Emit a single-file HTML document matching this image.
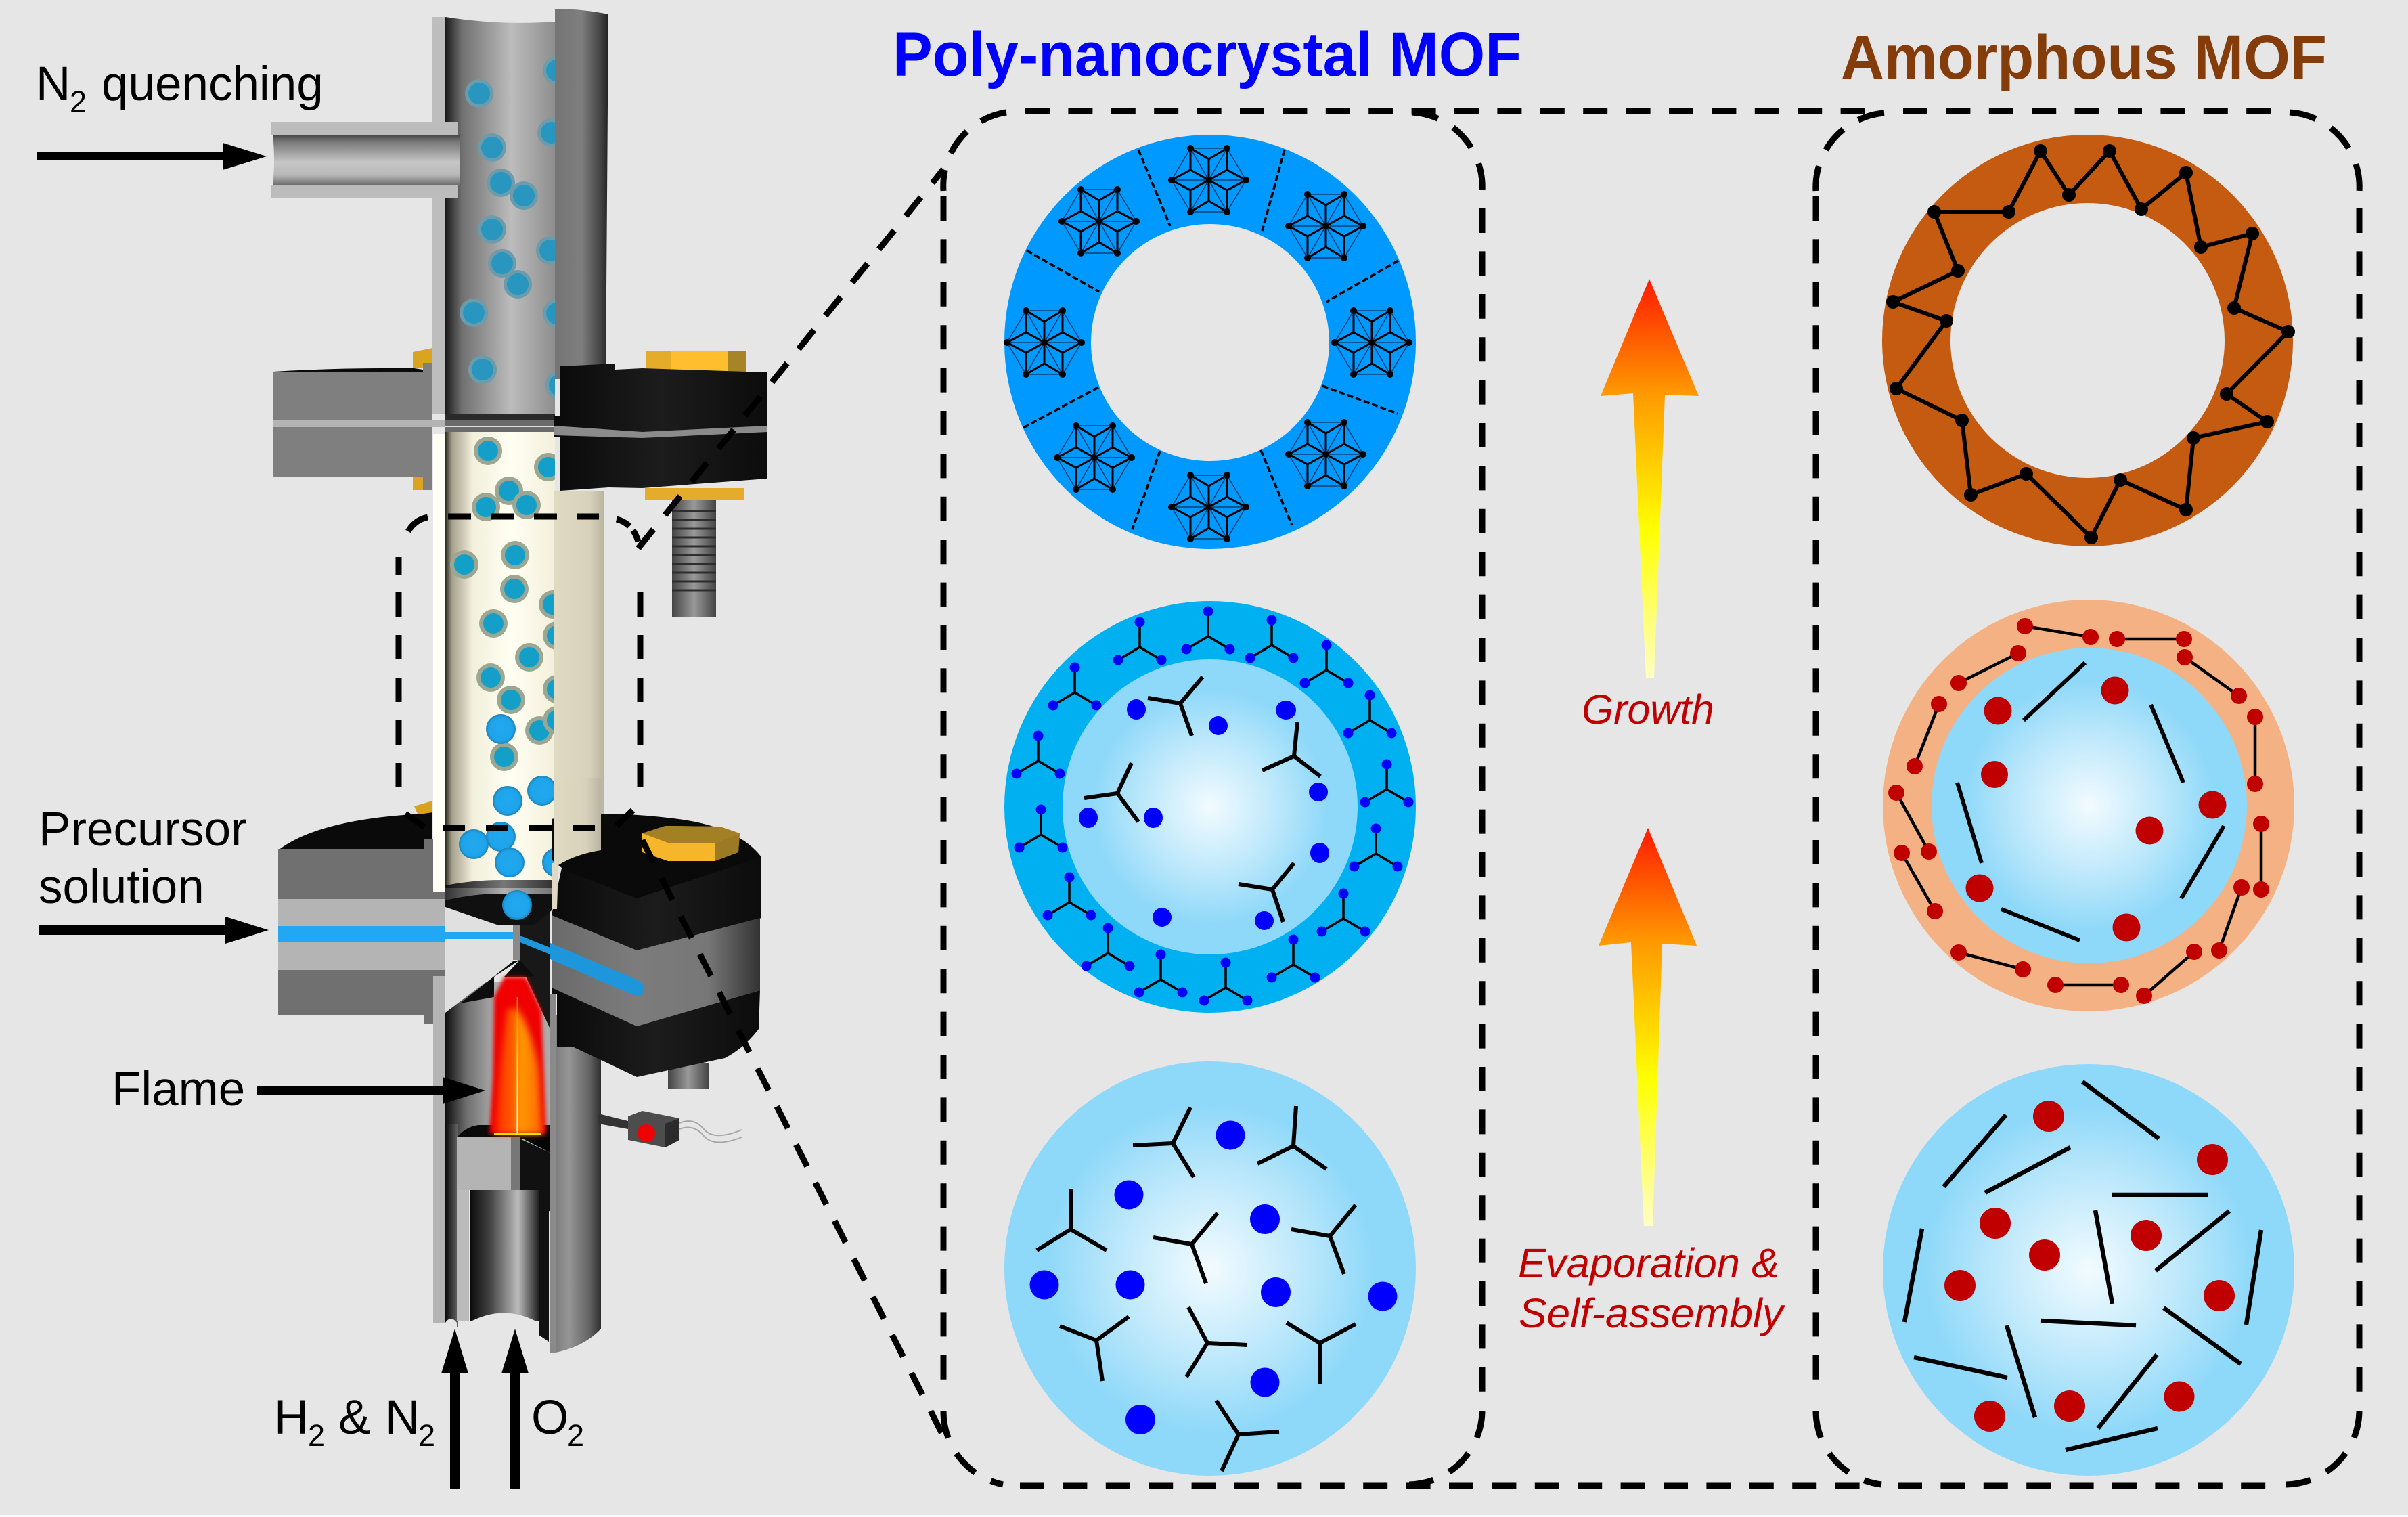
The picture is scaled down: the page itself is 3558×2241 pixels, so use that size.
<!DOCTYPE html>
<html><head><meta charset="utf-8"><style>html,body{margin:0;padding:0;background:#e6e6e6}svg{display:block}text{font-family:"Liberation Sans",sans-serif}</style></head><body>
<svg xmlns="http://www.w3.org/2000/svg" width="3558" height="2241" viewBox="0 0 3558 2241">
<defs>
<linearGradient id="pipeV" x1="0" y1="0" x2="0" y2="1"><stop offset="0" stop-color="#444"/><stop offset=".15" stop-color="#7a7a7a"/><stop offset=".55" stop-color="#c6c6c6"/><stop offset=".8" stop-color="#b8b8b8"/><stop offset="1" stop-color="#707070"/></linearGradient>
<linearGradient id="innerGray"><stop offset="0" stop-color="#1a1a1a"/><stop offset=".15" stop-color="#707070"/><stop offset=".6" stop-color="#bcbcbc"/><stop offset="1" stop-color="#8e8e8e"/></linearGradient>
<linearGradient id="outerGray"><stop offset="0" stop-color="#757575"/><stop offset=".5" stop-color="#7e7e7e"/><stop offset=".85" stop-color="#444"/><stop offset="1" stop-color="#222"/></linearGradient>
<linearGradient id="outerLow"><stop offset="0" stop-color="#777"/><stop offset=".35" stop-color="#959595"/><stop offset=".75" stop-color="#666"/><stop offset="1" stop-color="#2e2e2e"/></linearGradient>
<linearGradient id="beige"><stop offset="0" stop-color="#2a2a20"/><stop offset=".06" stop-color="#a5a08c"/><stop offset=".25" stop-color="#f2efdc"/><stop offset=".6" stop-color="#fffff2"/><stop offset="1" stop-color="#f3efdc"/></linearGradient>
<linearGradient id="beigeOut"><stop offset="0" stop-color="#e0dac3"/><stop offset=".7" stop-color="#d8d2bb"/><stop offset="1" stop-color="#b8b4a1"/></linearGradient>
<linearGradient id="blackH"><stop offset="0" stop-color="#0a0a0a"/><stop offset=".5" stop-color="#1c1c1c"/><stop offset="1" stop-color="#0c0c0c"/></linearGradient>
<linearGradient id="grayBand"><stop offset="0" stop-color="#6a6a6a"/><stop offset=".4" stop-color="#7c7c7c"/><stop offset=".75" stop-color="#777"/><stop offset="1" stop-color="#333"/></linearGradient>
<linearGradient id="screw"><stop offset="0" stop-color="#444"/><stop offset=".5" stop-color="#999"/><stop offset="1" stop-color="#444"/></linearGradient>
<linearGradient id="lowerTube"><stop offset="0" stop-color="#0d0d0d"/><stop offset=".2" stop-color="#6e6e6e"/><stop offset=".5" stop-color="#b4b4b4"/><stop offset="1" stop-color="#acacac"/></linearGradient>
<linearGradient id="lowerIn"><stop offset="0" stop-color="#0a0a0a"/><stop offset=".3" stop-color="#444"/><stop offset=".7" stop-color="#bbb"/><stop offset="1" stop-color="#222"/></linearGradient>
<linearGradient id="gapDark"><stop offset="0" stop-color="#0a0a0a"/><stop offset="1" stop-color="#666"/></linearGradient>
<linearGradient id="ringDark"><stop offset="0" stop-color="#111"/><stop offset=".55" stop-color="#777"/><stop offset="1" stop-color="#333"/></linearGradient>
<linearGradient id="ringLight"><stop offset="0" stop-color="#333"/><stop offset=".55" stop-color="#b0b0b0"/><stop offset="1" stop-color="#777"/></linearGradient>
<linearGradient id="flameL" x1="0" y1="0" x2="1" y2="0"><stop offset="0" stop-color="#ff3000"/><stop offset="1" stop-color="#ff6a00"/></linearGradient>
<linearGradient id="flameR" x1="0" y1="0" x2="1" y2="0"><stop offset="0" stop-color="#ffa000"/><stop offset="1" stop-color="#ff6800"/></linearGradient>
<linearGradient id="coreFade" x1="0" y1="0" x2="0" y2="1"><stop offset="0" stop-color="#ff7000"/><stop offset=".25" stop-color="#ffb000"/><stop offset=".6" stop-color="#ffe060"/><stop offset="1" stop-color="#ffffff"/></linearGradient>
<radialGradient id="sphere" cx=".5" cy=".5" r=".5"><stop offset="0" stop-color="#f2fbff"/><stop offset=".45" stop-color="#bde8fb"/><stop offset=".8" stop-color="#8ed8f9"/><stop offset="1" stop-color="#8ed8f9"/></radialGradient>
<radialGradient id="ball" cx=".5" cy=".5" r=".5"><stop offset="0" stop-color="#1fa8f0"/><stop offset=".8" stop-color="#1fa4ea"/><stop offset="1" stop-color="#1b83b8"/></radialGradient>
<linearGradient id="arrowUp" gradientUnits="objectBoundingBox" x1="0" y1="0" x2="0" y2="1"><stop offset="0" stop-color="#ff1a00"/><stop offset=".29" stop-color="#ff9a00"/><stop offset=".63" stop-color="#ffff00"/><stop offset="1" stop-color="#ffffc4"/></linearGradient>
<g id="star">
<path d="M0 0L55 0M0 0L-55 0M0 0L27 47M0 0L-27 47M0 0L27 -47M0 0L-27 -47M-27 -47L27 -47L55 0L27 47L-27 47L-55 0Z" fill="none" stroke="#0b3f73" stroke-width="1.6"/>
<path d="M55 0L27 15L27 47L0 31L-27 47L-27 15L-55 0L-27 -15L-27 -47L0 -31L27 -47L27 -15ZM0 -31V31M27 -15L-27 15M27 15L-27 -15" fill="none" stroke="#000" stroke-width="3"/>
<g fill="#000"><circle r="4.5"/><circle cx="55" r="5"/><circle cx="-55" r="5"/><circle cx="27" cy="47" r="5"/><circle cx="-27" cy="47" r="5"/><circle cx="27" cy="-47" r="5"/><circle cx="-27" cy="-47" r="5"/></g>
</g>
<g id="ym"><path d="M0 0V-37M0 0L-32 19M0 0L32 19" stroke="#000" stroke-width="3.5" fill="none"/><g fill="#0000ff"><circle cy="-37" r="7.5"/><circle cx="-32" cy="19" r="7.5"/><circle cx="32" cy="19" r="7.5"/></g></g>
<g id="pg"><circle r="21" fill="#6c9cab"/><circle r="16" fill="#2896bf"/></g>
<g id="pb"><circle r="21" fill="#9ba792"/><circle r="15" fill="#149fc8"/></g>
<clipPath id="tubeClip"><rect x="658" y="0" width="162" height="1400"/></clipPath>
</defs>
<rect width="3558" height="2241" fill="#e6e6e6"/>
<rect y="2238" width="3558" height="3" fill="#fbfbfb"/>

<!-- left upper clamp -->
<path d="M610 520L639 514V544H610Z" fill="#d9a520"/><rect x="610" y="704" width="29" height="20" fill="#d9a520"/>
<path d="M404 549Q500 543 612 544L625 546V536H639V560H404Z" fill="#0a0a0a"/>
<rect x="404" y="549" width="235" height="155" fill="#7f7f7f"/>
<rect x="625" y="536" width="14" height="188" fill="#7f7f7f"/>
<rect x="404" y="621" width="254" height="10" fill="#b4b4b4"/>

<!-- upper tube -->
<rect x="639" y="25" width="19" height="586" fill="#bdbdbd"/>
<path d="M658 25Q740 38 820 32V611H658Z" fill="url(#innerGray)"/>
<rect x="640" y="641" width="18" height="676" fill="#fffff6"/>
<rect x="658" y="638" width="162" height="670" fill="url(#beige)"/>
<rect x="658" y="611" width="162" height="27" fill="#6a6a6a"/><rect x="658" y="611" width="162" height="9" fill="#2a2a2a"/><rect x="658" y="629" width="162" height="2" fill="#ddd"/>

<!-- particles -->
<g clip-path="url(#tubeClip)">
<use href="#pg" x="708" y="138"/><use href="#pg" x="823" y="104"/><use href="#pg" x="727" y="218"/><use href="#pg" x="815" y="196"/><use href="#pg" x="740" y="270"/><use href="#pg" x="774" y="289"/><use href="#pg" x="727" y="339"/><use href="#pg" x="813" y="370"/><use href="#pg" x="742" y="389"/><use href="#pg" x="765" y="420"/><use href="#pg" x="700" y="462"/><use href="#pg" x="823" y="463"/><use href="#pg" x="713" y="546"/><use href="#pg" x="827" y="569"/>
<use href="#pb" x="721" y="666"/><use href="#pb" x="810" y="690"/><use href="#pb" x="752" y="725"/><use href="#pb" x="718" y="749"/><use href="#pb" x="778" y="746"/><use href="#pb" x="686" y="834"/><use href="#pb" x="761" y="820"/><use href="#pb" x="760" y="870"/><use href="#pb" x="817" y="893"/><use href="#pb" x="729" y="921"/><use href="#pb" x="823" y="939"/><use href="#pb" x="782" y="971"/><use href="#pb" x="725" y="1001"/><use href="#pb" x="755" y="1034"/><use href="#pb" x="823" y="1018"/><use href="#pb" x="797" y="1079"/><use href="#pb" x="823" y="1064"/><use href="#pb" x="745" y="1118"/>
<g fill="url(#ball)"><circle cx="740" cy="1077" r="22"/><circle cx="750" cy="1183" r="22"/><circle cx="801" cy="1168" r="22"/><circle cx="740" cy="1236" r="22"/><circle cx="700" cy="1247" r="22"/><circle cx="753" cy="1274" r="22"/><circle cx="823" cy="1274" r="22"/></g>
</g>

<!-- side pipe -->
<rect x="401" y="180" width="276" height="19" fill="#bcbcbc"/>
<rect x="401" y="273" width="276" height="19" fill="#bcbcbc"/>
<path d="M403 199H679V273H403Q407 236 403 199Z" fill="url(#pipeV)"/>

<!-- outer upper half tube -->
<path d="M820 13Q860 13 899 21L895 560H820Z" fill="url(#outerGray)"/>

<!-- upper right clamp -->
<rect x="954" y="519" width="148" height="32" fill="#ffbe2e"/><rect x="954" y="519" width="37" height="32" fill="#e5ac2a"/><rect x="1075" y="519" width="27" height="32" fill="#a88428"/>
<path d="M953 721H1100V739H953Z" fill="#e5ab2b"/>
<rect x="993" y="739" width="65" height="172" fill="url(#screw)"/>
<g stroke="#2d2d2d" stroke-width="3"><path d="M993 755H1058M993 768H1058M993 781H1058M993 794H1058M993 807H1058M993 820H1058M993 833H1058M993 846H1058M993 859H1058M993 872H1058"/></g>
<rect x="819" y="725" width="74" height="480" fill="url(#beigeOut)"/>
<path d="M828 541L909 537V546L949 544L1133 550L1134 707L949 721L899 720L828 725V646H819V614H828Z" fill="url(#blackH)"/>
<path d="M819 629L949 638L1134 629V638L949 647L819 643Z" fill="#8b8b8b"/>

<!-- lower left clamp -->
<path d="M612 1191L639 1183V1227L620 1209Z" fill="#d6a21f"/>
<path d="M411 1256Q470 1210 626 1202L639 1200V1256Z" fill="#0a0a0a"/>
<rect x="411" y="1254" width="229" height="245" fill="#707070"/>
<rect x="627" y="1240" width="13" height="273" fill="#707070"/>
<rect x="640" y="1317" width="18" height="126" fill="#707070"/>
<rect x="411" y="1328" width="247" height="105" fill="#b4b4b4"/>
<rect x="411" y="1368" width="247" height="24" fill="#22a7f5"/>

<!-- lower walls -->
<rect x="640" y="1442" width="18" height="512" fill="#b4b4b4"/>
<rect x="658" y="1450" width="155" height="230" fill="url(#lowerTube)"/>
<rect x="658" y="1660" width="19" height="300" fill="url(#gapDark)"/>
<rect x="675" y="1680" width="18" height="272" fill="#bbb"/>
<rect x="694" y="1680" width="102" height="100" fill="#bdbdbd"/>
<path d="M677 1678Q690 1664 707 1662H813V1682H677Z" fill="#0a0a0a"/>
<rect x="675" y="1680" width="80" height="78" fill="#b4b4b4"/>
<path d="M768 1682L813 1703V1790L796 1780L768 1758Z" fill="#111"/>
<path d="M768 1680H813V1703Z" fill="#050505"/>
<rect x="755" y="1680" width="13" height="78" fill="#777"/>
<rect x="694" y="1758" width="102" height="194" fill="url(#lowerIn)"/>
<path d="M796 1760H811V1982L796 1972Z" fill="#111"/>
<path d="M692 1954Q745 1925 796 1954V1990H692Z" fill="#e6e6e6"/>
<path d="M658 1954Q666 1942 675 1954V1990H658Z" fill="#e6e6e6"/>

<!-- nozzle -->
<path d="M658 1340L737 1367H758V1420L658 1496Z" fill="#e0e0e0"/>
<rect x="658" y="1377" width="100" height="10" fill="#22a7f5"/>
<path d="M768 1363L813 1345V1520L768 1420Z" fill="#181818"/>
<path d="M758 1420L680 1482L730 1473V1443L768 1418Z" fill="#0d0d0d"/>
<path d="M768 1418L745 1443H790Z" fill="#0d0d0d"/>
<path d="M777 1443L813 1520V1440Z" fill="#181818"/>
<path d="M766 1381L813 1400V1410L766 1391Z" fill="#1e96dc"/>
<rect x="758" y="1367" width="10" height="51" fill="#8a8a8a"/>

<!-- flame -->
<g style="filter:blur(3px)"><path d="M745 1443H777L800 1493L804 1593L807 1675H723L728 1593L730 1473Z" fill="#f00000"/></g>
<g style="filter:blur(5px)">
<path d="M750 1490Q738 1570 733 1675H766V1490Z" fill="url(#flameL)"/>
<path d="M764 1490Q785 1520 796 1580L801 1675H764Z" fill="url(#flameR)"/>
</g>
<rect x="763.5" y="1473" width="2.5" height="202" fill="url(#coreFade)"/>
<rect x="730" y="1673" width="70" height="4" fill="#ffe000"/>

<!-- beige bottom ring -->
<path d="M658 1308Q700 1300 740 1300H815V1312H658Z" fill="url(#ringDark)"/>
<path d="M658 1312H815V1320H740Q690 1320 658 1335Z" fill="url(#ringLight)"/>
<path d="M658 1330Q700 1320 740 1320H815V1345L790 1366L737 1367L658 1340Z" fill="#101010"/>
<circle cx="764" cy="1337" r="22" fill="url(#ball)"/>

<!-- lower right outer tube -->
<rect x="813" y="1468" width="9" height="531" fill="#8a8a8a"/>
<path d="M822 1500H888V1963Q860 1992 815 1999H822Z" fill="url(#outerLow)"/>

<!-- sensor -->
<path d="M884 1645L928 1656V1668L884 1660Z" fill="#333"/>
<path d="M928 1649L949 1641L1004 1652V1684L983 1695L928 1684Z" fill="#4d4d4d"/>
<path d="M983 1660L1004 1652V1684L983 1695Z" fill="#2b2b2b"/>
<circle cx="955" cy="1674" r="13" fill="#f00000"/>
<path d="M1004 1659Q1025 1650 1040 1668T1096 1669M1004 1668Q1025 1660 1040 1678T1096 1680" fill="none" stroke="#a8a8a8" stroke-width="2"/>

<!-- lower right clamp -->
<rect x="987" y="1570" width="60" height="39" fill="url(#screw)"/>
<path d="M830 1282L815 1270V1210Q880 1195 995 1209Q1090 1220 1125 1266V1356L941 1404L815 1352Z" fill="#0a0a0a"/>
<path d="M830 1284L941 1327L1125 1266V1356L941 1404L815 1352Z" fill="url(#blackH)"/>
<path d="M815 1352L941 1404L1123 1356V1463L941 1516L815 1459Z" fill="url(#grayBand)"/>
<path d="M815 1459L941 1516L1123 1463L1121 1520Q1100 1548 1071 1563L941 1591L848 1547H823V1468H815Z" fill="url(#blackH)"/>
<path d="M813 1393L945 1449Q955 1458 949 1468Q945 1474 938 1471L813 1417Z" fill="#1e96dc"/>
<path d="M819 1150H888V1256Q850 1262 825 1278L823 1343H815V1275H819Z" fill="url(#beigeOut)"/>
<path d="M949 1231L983 1220L1064 1221L1093 1231L1091 1259L1056 1272H987L949 1259Z" fill="#f6b62c"/>
<path d="M949 1231L983 1220L1064 1221L1093 1231L1056 1245H987Z" fill="#a48025"/>
<path d="M1056 1245L1093 1231L1091 1259L1056 1272Z" fill="#9a7a25"/>

<!-- small dashed rect -->
<g fill="none" stroke="#000" stroke-width="9">
<path d="M662 763H885" stroke-dasharray="34 29.5"/>
<path d="M911 767Q935 773 943 800" stroke-dasharray="22 8"/>
<path d="M603 785Q613 768 632 764"/>
<path d="M589 850V823"/>
<path d="M589 875V1172" stroke-dasharray="36 27"/>
<path d="M946 875V1172" stroke-dasharray="36 27"/>
<path d="M599 1202L627 1222"/>
<path d="M654 1223H881" stroke-dasharray="33 31"/>
<path d="M911 1220L935 1197"/>
<!-- connectors -->
<path d="M943 810L1394 250" stroke-dasharray="36 27"/>
<path d="M949 1241L1394 2122" stroke-dasharray="36 27"/>
</g>

<!-- left arrows -->
<g fill="#000">
<path d="M54 225H329V211L394 231L329 251V237H54Z"/>
<path d="M57 1367H333V1354L397 1374L333 1394V1381H57Z"/>
<path d="M379 1604H654V1591L717 1611L654 1631V1618H379Z"/>
<path d="M665 2199V2029H652L672 1963L692 2029H679V2199Z"/>
<path d="M754 2199V2029H741L761 1963L781 2029H768V2199Z"/>
</g>
<g font-size="71" fill="#000">
<text><tspan x="53" y="148">N</tspan><tspan x="103" y="166" font-size="45">2</tspan><tspan x="150" y="148">quenching</tspan></text>
<text x="57" y="1249">Precursor</text>
<text x="57" y="1334">solution</text>
<text x="165" y="1633">Flame</text>
<text><tspan x="405" y="2118">H</tspan><tspan x="455" y="2136" font-size="45">2</tspan><tspan x="500" y="2118">&amp;</tspan><tspan x="569" y="2118">N</tspan><tspan x="618" y="2136" font-size="45">2</tspan></text>
<text><tspan x="785" y="2118">O</tspan><tspan x="838" y="2136" font-size="45">2</tspan></text>
</g>

<!-- titles -->
<text x="1319" y="112" font-size="92" font-weight="bold" fill="#0000ff" textLength="929" lengthAdjust="spacingAndGlyphs">Poly-nanocrystal MOF</text>
<text x="2720" y="116" font-size="92" font-weight="bold" fill="#843c0b" textLength="718" lengthAdjust="spacingAndGlyphs">Amorphous MOF</text>

<!-- big dashed rects -->
<g fill="none" stroke="#000" stroke-width="9">
<path d="M1515 164H2780M2812 164H3357" stroke-dasharray="36 27.4"/>
<path d="M1507 2195H2748M2804 2195H3350" stroke-dasharray="36 27.4"/>
<path d="M1394 290V2060M2190 308V2060M2683 290V2060M3486 308V2060" stroke-dasharray="36 27.4"/>
<g stroke-dasharray="40 26">
<path d="M1487 166A110 110 0 0 0 1394 282"/>
<path d="M2086 166A110 110 0 0 1 2190 282"/>
<path d="M2784 167A110 110 0 0 0 2683 282"/>
<path d="M3383 166A110 110 0 0 1 3486 282"/>
<path d="M1394 2085A110 110 0 0 0 1482 2193"/>
<path d="M2190 2085A110 110 0 0 1 2082 2193"/>
<path d="M2683 2085A110 110 0 0 0 2780 2193"/>
<path d="M3486 2085A110 110 0 0 1 3378 2193"/>
</g>
</g>

<!-- Top-left ring -->
<path fill-rule="evenodd" fill="#0099ff" d="M1484 505a304 306 0 1 0 608 0a304 306 0 1 0 -608 0ZM1612 506a176 175 0 1 1 352 0a176 175 0 1 1 -352 0Z"/>
<g stroke="#000" stroke-width="3.5" stroke-dasharray="9 4" fill="none"><path d="M1682 221L1729 334M1898 221L1865 341M2066 385L1960 446M1954 570L2065 611M1863 665L1909 776M1714 666L1673 782M1623 572L1512 632M1517 370L1624 431"/></g>
<use href="#star" x="1786" y="266"/><use href="#star" x="1959" y="334"/><use href="#star" x="2027" y="506"/><use href="#star" x="1959" y="671"/><use href="#star" x="1786" y="749"/><use href="#star" x="1617" y="676"/><use href="#star" x="1543" y="506"/><use href="#star" x="1624" y="327"/>

<!-- Top-right ring -->
<path fill-rule="evenodd" fill="#c55a11" d="M2781 503a303.5 304 0 1 0 607 0a303.5 304 0 1 0 -607 0ZM2882 503a202.5 203 0 1 1 405 0a202.5 203 0 1 1 -405 0Z"/>
<polygon fill="none" stroke="#000" stroke-width="6" points="3015,223 3057,288 3117,223 3164,309 3230,255 3252,365 3328,345 3301,455 3381,490 3290,582 3350,623 3241,647 3230,753 3133,709 3090,794 2994,700 2912,731 2899,621 2802,574 2876,474 2797,446 2893,400 2858,313 2968,313"/>
<g fill="#000"><circle cx="3015" cy="223" r="10"/><circle cx="3057" cy="288" r="10"/><circle cx="3117" cy="223" r="10"/><circle cx="3164" cy="309" r="10"/><circle cx="3230" cy="255" r="10"/><circle cx="3252" cy="365" r="10"/><circle cx="3328" cy="345" r="10"/><circle cx="3301" cy="455" r="10"/><circle cx="3381" cy="490" r="10"/><circle cx="3290" cy="582" r="10"/><circle cx="3350" cy="623" r="10"/><circle cx="3241" cy="647" r="10"/><circle cx="3230" cy="753" r="10"/><circle cx="3133" cy="709" r="10"/><circle cx="3090" cy="794" r="10"/><circle cx="2994" cy="700" r="10"/><circle cx="2912" cy="731" r="10"/><circle cx="2899" cy="621" r="10"/><circle cx="2802" cy="574" r="10"/><circle cx="2876" cy="474" r="10"/><circle cx="2797" cy="446" r="10"/><circle cx="2893" cy="400" r="10"/><circle cx="2858" cy="313" r="10"/><circle cx="2968" cy="313" r="10"/></g>

<!-- Middle-left -->
<ellipse cx="1788" cy="1192" rx="304" ry="304" fill="#00b0f0"/>
<ellipse cx="1788" cy="1192" rx="218" ry="218" fill="url(#sphere)"/>
<use href="#ym" x="1684" y="956"/><use href="#ym" x="1785" y="940"/><use href="#ym" x="1879" y="953"/><use href="#ym" x="1960" y="990"/><use href="#ym" x="2024" y="1064"/><use href="#ym" x="2049" y="1166"/><use href="#ym" x="2033" y="1261"/><use href="#ym" x="1985" y="1357"/><use href="#ym" x="1911" y="1425"/><use href="#ym" x="1811" y="1459"/><use href="#ym" x="1715" y="1447"/><use href="#ym" x="1637" y="1408"/><use href="#ym" x="1580" y="1333"/><use href="#ym" x="1538" y="1233"/><use href="#ym" x="1534" y="1124"/><use href="#ym" x="1588" y="1023"/>
<g fill="none" stroke="#000" stroke-width="6"><path d="M1744 1039L1777 1000M1744 1039L1696 1031M1744 1039L1761 1087M1912 1117L1917 1067M1912 1117L1865 1138M1912 1117L1951 1147M1651 1172L1672 1127M1651 1172L1602 1179M1651 1172L1682 1214M1880 1314L1912 1275M1880 1314L1830 1306M1880 1314L1896 1362"/></g>
<g fill="#0000ff"><ellipse cx="1679" cy="1048" rx="14" ry="15"/><ellipse cx="1800" cy="1072" rx="14" ry="14"/><ellipse cx="1900" cy="1049" rx="15" ry="14"/><ellipse cx="1948" cy="1170" rx="14" ry="14"/><ellipse cx="1608" cy="1208" rx="14" ry="15"/><ellipse cx="1704" cy="1208" rx="14" ry="15"/><ellipse cx="1950" cy="1260" rx="14" ry="15"/><ellipse cx="1717" cy="1355" rx="14" ry="14"/><ellipse cx="1868" cy="1360" rx="14" ry="14"/></g>

<!-- Middle-right -->
<ellipse cx="3086" cy="1190" rx="304" ry="304" fill="#f4b183"/>
<ellipse cx="3087" cy="1190" rx="233" ry="233" fill="url(#sphere)"/>
<g stroke="#000" stroke-width="4.5" fill="none"><path d="M2992 925L3089 941M3128 944H3227M3228 971L3308 1028M3332 1059V1158M3341 1217V1314M3312 1311L3279 1404M3242 1406L3168 1471M3134 1455H3037M2989 1432L2894 1407M2859 1346L2810 1260M2850 1258L2802 1171M2829 1132L2865 1040M2894 1009L2982 965"/></g>
<g fill="#c00000"><circle cx="2992" cy="925" r="12"/><circle cx="3089" cy="941" r="12"/><circle cx="3128" cy="944" r="12"/><circle cx="3227" cy="944" r="12"/><circle cx="3228" cy="971" r="12"/><circle cx="3308" cy="1028" r="12"/><circle cx="3332" cy="1059" r="12"/><circle cx="3332" cy="1158" r="12"/><circle cx="3341" cy="1217" r="12"/><circle cx="3341" cy="1314" r="12"/><circle cx="3312" cy="1311" r="12"/><circle cx="3279" cy="1404" r="12"/><circle cx="3242" cy="1406" r="12"/><circle cx="3168" cy="1471" r="12"/><circle cx="3134" cy="1455" r="12"/><circle cx="3037" cy="1455" r="12"/><circle cx="2989" cy="1432" r="12"/><circle cx="2894" cy="1407" r="12"/><circle cx="2859" cy="1346" r="12"/><circle cx="2810" cy="1260" r="12"/><circle cx="2850" cy="1258" r="12"/><circle cx="2802" cy="1171" r="12"/><circle cx="2829" cy="1132" r="12"/><circle cx="2865" cy="1040" r="12"/><circle cx="2894" cy="1009" r="12"/><circle cx="2982" cy="965" r="12"/>
<circle cx="2952" cy="1050" r="20.5"/><circle cx="3125" cy="1020" r="20.5"/><circle cx="2947" cy="1144" r="20"/><circle cx="3269" cy="1189" r="20.5"/><circle cx="3176" cy="1227" r="20.5"/><circle cx="2925" cy="1312" r="20.5"/><circle cx="3142" cy="1370" r="20.5"/></g>
<g stroke="#000" stroke-width="6" fill="none"><path d="M3081 979L2990 1064M3178 1041L3226 1156M2892 1156L2928 1275M3286 1220L3223 1327M2957 1343L3073 1389"/></g>

<!-- Bottom-left -->
<ellipse cx="1788" cy="1874" rx="304" ry="306" fill="url(#sphere)"/>
<g fill="none" stroke="#000" stroke-width="6"><path d="M1733 1689L1759 1636M1733 1689L1674 1692M1733 1689L1764 1739M1911 1693L1915 1634M1911 1693L1858 1719M1911 1693L1960 1727M1582 1816V1756M1582 1816L1532 1847M1582 1816L1635 1847M1761 1838L1799 1792M1761 1838L1704 1828M1761 1838L1782 1896M1965 1826L2003 1780M1965 1826L1908 1816M1965 1826L1986 1882M1620 1980L1668 1945M1620 1980L1566 1959M1620 1980L1629 2040M1784 1984L1756 1931M1784 1984L1843 1987M1784 1984L1753 2034M1950 1984L1901 1954M1950 1984L2003 1956M1950 1984V2044M1830 2119L1797 2069M1830 2119L1890 2115M1830 2119L1805 2173"/></g>
<g fill="#0000ff"><circle cx="1818" cy="1677" r="21.5"/><circle cx="1668" cy="1765" r="21.5"/><circle cx="1869" cy="1801" r="22"/><circle cx="1543" cy="1898" r="21.5"/><circle cx="1670" cy="1898" r="21.5"/><circle cx="1885" cy="1909" r="22"/><circle cx="2043" cy="1915" r="21.5"/><circle cx="1869" cy="2042" r="21.5"/><circle cx="1685" cy="2097" r="22"/></g>

<!-- Bottom-right -->
<ellipse cx="3086" cy="1876" rx="304" ry="304" fill="url(#sphere)"/>
<g fill="none" stroke="#000" stroke-width="6.5"><path d="M3077 1598L3190 1682M2964 1647L2872 1753M3059 1695L2933 1762M3121 1765H3263M3096 1788L3121 1926M3294 1789L3185 1877M3341 1817L3319 1957M2840 1815L2814 1953M3015 1951L3156 1958M3197 1932L3311 2015M2828 2005L2966 2035M2965 1958L3007 2094M3187 2001L3100 2110M3188 2110L3052 2142"/></g>
<g fill="#c00000"><circle cx="3027" cy="1649" r="23"/><circle cx="3269" cy="1713" r="23"/><circle cx="2948" cy="1807" r="23"/><circle cx="3021" cy="1854" r="23"/><circle cx="3171" cy="1825" r="23"/><circle cx="2896" cy="1899" r="23"/><circle cx="3279" cy="1914" r="23"/><circle cx="2940" cy="2092" r="23"/><circle cx="3058" cy="2077" r="23"/><circle cx="3220" cy="2063" r="22.5"/></g>

<!-- center arrows -->
<polygon fill="url(#arrowUp)" points="2437,412 2510,585 2460,583 2444,1001 2432,1001 2413,581 2365,585"/>
<polygon fill="url(#arrowUp)" points="2435,1223 2507,1397 2456,1394 2442,1811 2429,1811 2410,1392 2362,1397"/>
<g font-size="61" font-style="italic" fill="#c00000">
<text x="2337" y="1069" textLength="196" lengthAdjust="spacingAndGlyphs">Growth</text>
<text x="2243" y="1887" textLength="386" lengthAdjust="spacingAndGlyphs">Evaporation &amp;</text>
<text x="2244" y="1961" textLength="391" lengthAdjust="spacingAndGlyphs">Self-assembly</text>
</g>
</svg>
</body></html>
